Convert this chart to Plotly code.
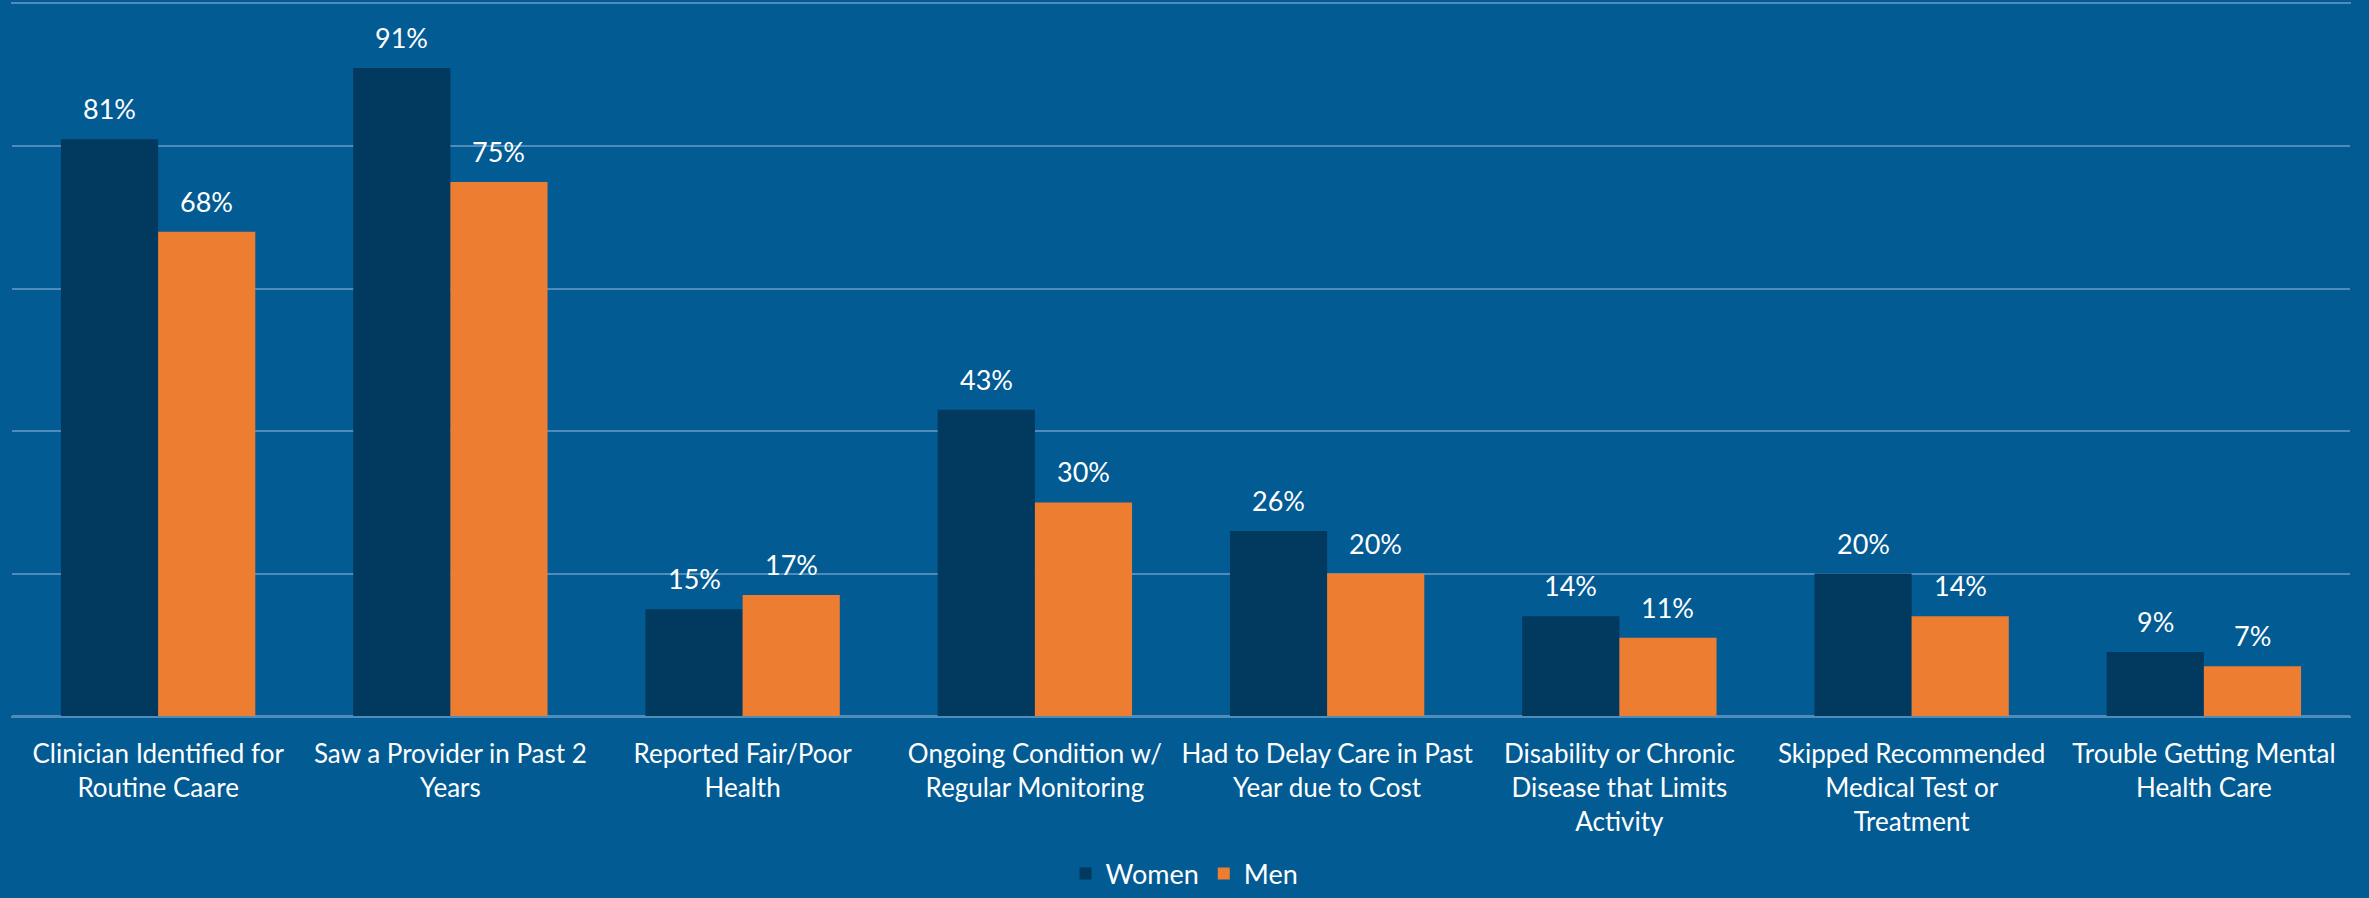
import plotly.graph_objects as go

categories = [
    "Clinician Identified for<br>Routine Caare",
    "Saw a Provider in Past 2<br>Years",
    "Reported Fair/Poor<br>Health",
    "Ongoing Condition w/<br>Regular Monitoring",
    "Had to Delay Care in Past<br>Year due to Cost",
    "Disability or Chronic<br>Disease that Limits<br>Activity",
    "Skipped Recommended<br>Medical Test or<br>Treatment",
    "Trouble Getting Mental<br>Health Care",
]
women = [81, 91, 15, 43, 26, 14, 20, 9]
men = [68, 75, 17, 30, 20, 11, 14, 7]

BG = "#035B93"
WOMEN_C = "#013A5E"
MEN_C = "#ED7D31"
GRID = "#4F8CBA"
FONT = "Lato"

W, H = 2369, 898
ML, MR, MT, MB = 12, 19, 4, 182
BARGAP = 0.335
Y_MAX = 100

fig = go.Figure()
fig.add_trace(go.Bar(name="Women", x=categories, y=women,
                     marker=dict(color=WOMEN_C, line=dict(width=0))))
fig.add_trace(go.Bar(name="Men", x=categories, y=men,
                     marker=dict(color=MEN_C, line=dict(width=0))))

# value labels above each bar
cat_w = (W - ML - MR) / len(categories)
bar_w = cat_w * (1 - BARGAP) / 2
for series, sign in ((women, -1), (men, 1)):
    for c, v in zip(categories, series):
        fig.add_annotation(x=c, y=v, text=f"{v}%", showarrow=False,
                           xshift=sign * bar_w / 2, yshift=12, yanchor="bottom",
                           font=dict(size=27, color="white", family=FONT))

fig.update_layout(
    width=W, height=H,
    paper_bgcolor=BG, plot_bgcolor=BG,
    barmode="group", bargap=BARGAP, bargroupgap=0,
    margin=dict(l=ML, r=MR, t=MT, b=MB, autoexpand=False),
    font=dict(family=FONT, color="white", size=26),
    legend=dict(orientation="h", x=0.5, xanchor="center", xref="container",
                y=-0.222, yanchor="middle", yref="paper",
                font=dict(size=27, color="white", family=FONT),
                bgcolor="rgba(0,0,0,0)", traceorder="normal"),
    showlegend=True,
)
fig.update_xaxes(
    automargin=False,
    showgrid=False, showline=False, zeroline=False,
    ticks="outside", ticklen=14, tickcolor="rgba(0,0,0,0)",
    tickfont=dict(size=26, color="white", family=FONT), tickangle=0,
)
fig.update_yaxes(
    automargin=False,
    range=[0, Y_MAX], tick0=0, dtick=20, showticklabels=False,
    showgrid=True, gridcolor=GRID, gridwidth=2,
    zeroline=True, zerolinecolor=GRID, zerolinewidth=2,
    showline=True, mirror=True, linecolor=BG, linewidth=0,
)
# top gridline drawn as the mirrored x-axis line at the top of the plot area
fig.update_xaxes(showline=True, mirror="allticks", linecolor=GRID, linewidth=2)

fig.write_html("out.html", config={"displayModeBar": False},
               post_script="document.body.style.margin='0';document.body.style.padding='0';document.body.style.overflow='hidden';")
